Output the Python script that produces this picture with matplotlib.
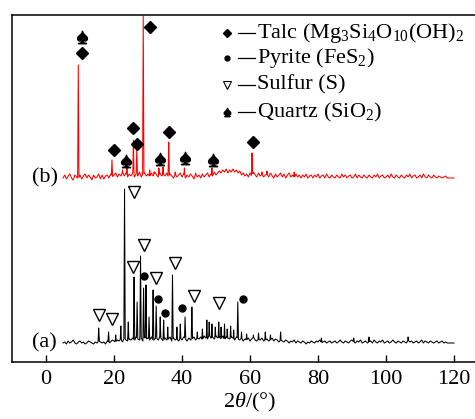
import numpy as np
import matplotlib
matplotlib.use("Agg")
import matplotlib.pyplot as plt

plt.rcParams['font.family'] = ['Liberation Serif', 'DejaVu Sans']
plt.rcParams['mathtext.fontset'] = 'custom'
plt.rcParams['mathtext.rm'] = 'Liberation Serif'
plt.rcParams['mathtext.it'] = 'Liberation Serif:italic'

# baseline noise on a 0.5 deg grid starting at 5 deg (offset from baseline level)
a_base = 19
a_noise = [0, 1, -1, 2, 0, 1, 3, 0, -1, 1, 2, 0, 1, -1, 0, 2, 1, 0, -1, 1,
           0, 2, 1, 0, 1, -1, 2, 0, 1, 3, 2, 1, 3, 2, 4, 1, 5, 3, 2, 4,
           3, 5, 2, 6, 4, 3, 5, 2, 6, 4, 5, 3, 6, 2, 4, 5, 3, 6, 4, 2,
           5, 3, 4, 6, 2, 5, 3, 4, 2, 5, 3, 6, 4, 2, 5, 3, 4, 6, 3, 5,
           4, 6, 3, 7, 5, 4, 8, 5, 6, 4, 7, 5, 6, 4, 7, 3, 6, 5, 4, 6,
           5, 3, 6, 4, 3, 5, 2, 4, 3, 5, 2, 4, 6, 3, 2, 4, 3, 5, 2, 3,
           4, 2, 3, 5, 2, 4, 3, 1, 3, 2, 1, 3, 2, 0, 2, 1, 3, 0, 2, 1,
           0, 2, 1, -1, 1, 0, 2, 1, 0, 2, 1, 3, 0, 1, 2, 0, 1, 2, 0, 1,
           2, 0, 1, 3, 1, 0, 2, 1, 0, 2, 3, 1, 0, 2, 1, 3, 0, 1, 2, 0,
           1, 2, 0, 3, 1, 0, 2, 1, 3, 0, 1, 2, 0, 1, 3, 1, 0, 2, 1, 0,
           2, 1, 0, 3, 1, 2, 0, 1, 2, 0, 1, 3, 0, 2, 1, 0, 2, 1, 0, 1,
           2, 0, 1, 2, 0, 1, 0]
b_base = 184
b_noise = [0, 3, -1, 2, 4, 0, -2, 3, 1, -1, 3, -1, 2, 4, 0, 3, 1, -2, 3, 0,
           1, 4, -1, 3, -1, 2, 3, 0, 4, 1, 3, 5, 1, 4, 2, 6, 2, 5, 1, 4,
           2, 5, 1, 4, 2, 6, 1, 4, 5, 2, 4, 1, 5, 2, 6, 3, 1, 5, 2, 4,
           2, 5, 1, 4, 2, 0, 4, 1, 3, 5, 1, 4, 0, 3, 1, 4, 2, -1, 4, 1,
           3, 0, 4, 1, 3, 5, 1, 4, 2, 6, 3, 5, 7, 5, 8, 6, 9, 5, 8, 6,
           9, 6, 8, 5, 7, 3, 5, 2, 4, 1, 5, 2, 6, 3, 1, 5, 2, 4, 1, 3,
           4, 1, 5, 2, 0, 4, 1, 3, 5, 1, 4, 0, 3, 5, 1, 3, 0, 4, 1, 3,
           0, 3, 1, 4, 0, 2, 3, 0, 3, 1, 4, 0, 2, 3, 0, 4, 1, 0, 3, 1,
           0, 3, 1, 0, 4, 1, 3, 0, 2, 3, 0, 1, 4, 0, 3, 1, 0, 3, 1, 0,
           3, 1, 0, 3, 1, 4, 0, 2, 3, 0, 1, 3, 0, 4, 1, 0, 3, 1, 0, 3,
           1, 0, 3, 1, 4, 0, 2, 3, 0, 1, 3, 0, 4, 1, 0, 3, 1, 0, 3, 1,
           0, 2, 1, 0, 1, 2, 0]

# peak positions (2theta) and top intensity
a_peak_pos = [15.5, 18.4, 20.5, 22.0, 23.1, 24.2, 25.9, 26.8, 27.8, 28.7, 29.4,
              30.3, 31.5, 32.4, 33.6, 34.6, 35.8, 37.2, 38.5, 39.5, 40.9, 42.9,
              44.5, 46.0, 47.3, 48.0, 48.8, 49.8, 50.8, 51.5, 52.5, 53.3, 54.3,
              55.2, 56.4, 57.5, 59.0, 61.0, 62.5, 64.5, 66.0, 69.0, 81.0, 90.5,
              95.0, 106.5]
a_peak_int = [34, 30, 27, 36, 173, 40, 85, 60, 106, 74, 77,
              45, 72, 56, 45, 42, 35, 87, 35, 38, 45, 55,
              30, 33, 42, 40, 38, 35, 40, 35, 38, 33, 36,
              32, 60, 30, 28, 27, 29, 30, 27, 30, 24, 24,
              25, 25]
b_peak_pos = [9.5, 19.4, 22.5, 23.8, 25.7, 26.7, 28.6, 30.5, 31.8, 33.2, 34.4,
              36.1, 38.0, 40.7, 44.0, 48.8, 60.6, 63.5, 65.0, 73.0]
b_peak_int = [297, 202, 192, 194, 222, 214, 346, 192, 190, 194, 195,
              220, 190, 194, 189, 194, 209, 190, 191, 190]

# phase markers
talc_x = [10.5, 30.5, 19.9, 25.7, 26.7, 36.3, 61.0]
talc_y = [309, 335, 212, 234, 218, 230, 220]
quartz_x = [10.6, 23.6, 33.4, 40.9, 49.1]
quartz_y = [325, 201, 203, 204, 202]
sulfur_x = [15.5, 19.4, 25.8, 28.9, 25.7, 32.4, 37.9, 43.4, 51.0]
sulfur_y = [47, 43, 170, 117, 95, 84, 99, 66, 59]
pyrite_x = [28.9, 32.8, 35.1, 40.1, 57.8]
pyrite_y = [86, 63, 49, 54, 63]

legend_labels = [r'Talc (Mg$_3$Si$_4$O$_{10}$(OH)$_2$',
                 r'Pyrite (FeS$_2$)',
                 r'Sulfur (S)',
                 r'Quartz (SiO$_2$)']


def pattern(base, noise, pos, inten, half=0.2):
    grid = 5 + 0.5 * np.arange(len(noise))
    xs = np.arange(5, 120.001, 0.05)
    ys = base + np.interp(xs, grid, noise)
    for p, h in zip(pos, inten):
        tri = h - (h - base) * np.abs(xs - p) / half
        ys = np.maximum(ys, tri)
    return xs, ys


fig = plt.figure(figsize=(4.75, 4.19), dpi=100)
ax = fig.add_axes([12 / 475, 57 / 419, 1.0, 347 / 419])

xa, ya = pattern(a_base, a_noise, a_peak_pos, a_peak_int)
xb, yb = pattern(b_base, b_noise, b_peak_pos, b_peak_int)
ax.plot(xa, ya, color='black', lw=0.75)
ax.plot(xb, yb, color='red', lw=0.75)

ax.plot(talc_x, talc_y, 'D', color='black', ms=6, ls='none')
ax.plot(quartz_x, quartz_y, marker=r'$\spadesuit$', color='black', ms=9, ls='none')
ax.plot(sulfur_x, sulfur_y, 'v', mfc='white', mec='black', mew=1.0, ms=8, ls='none')
ax.plot(pyrite_x, pyrite_y, 'o', color='black', ms=5, ls='none')

ax.text(-4.2, 19, '(a)', fontsize=16, va='center', ha='left')
ax.text(-4.2, 184, '(b)', fontsize=16, va='center', ha='left')

# legend drawn by hand
leg_y = [329, 304, 277, 250]
ax.plot(53.1, leg_y[0], 'D', color='black', ms=4, clip_on=False)
ax.plot(53.1, leg_y[1], 'o', color='black', ms=3.5, clip_on=False)
ax.plot(53.1, leg_y[2], 'v', mfc='white', mec='black', mew=0.8, ms=5.5, clip_on=False)
ax.plot(53.1, leg_y[3], marker=r'$\spadesuit$', color='black', ms=6, clip_on=False)
for yy, lab in zip(leg_y, legend_labels):
    ax.plot([56.4, 61.6], [yy, yy], color='black', lw=0.9)
    ax.text(62.2, yy, lab, fontsize=16, va='center', ha='left')

ax.set_xlim(-10, 129.7)
ax.set_ylim(0, 347)
ax.set_xticks([0, 20, 40, 60, 80, 100, 120])
ax.set_yticks([])
ax.tick_params(axis='x', direction='in', length=5, width=1.0, labelsize=16, pad=6)
for s in ax.spines.values():
    s.set_linewidth(1.1)
ax.set_xlabel(r'2$\it{\theta}$/(°)', fontsize=16, labelpad=1)

fig.savefig('out.png', dpi=100)
